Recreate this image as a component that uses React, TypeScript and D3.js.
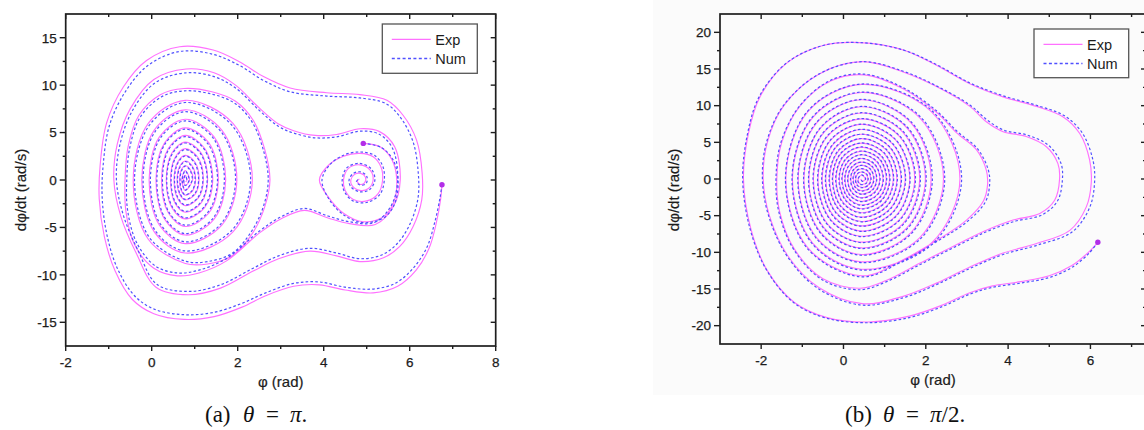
import React from "react";
import * as d3 from "d3";

type Pt = [number, number];

// ---------- Panel (a): theta = pi ----------
// trajectory starting at (6.75,-0.5), ends in the left well
const aExpMain: Pt[] = [
  [6.75,-0.5],[6.72,-2.0],[6.62,-4.5],[6.45,-7.2],[6.15,-9.5],[5.72,-11.2],[5.15,-11.9],[4.5,-11.6],[3.9,-11.05],[3.3,-11.2],
  [2.65,-12.2],[2.1,-13.4],[1.45,-14.4],[0.75,-14.7],[0.05,-14.1],[-0.45,-12.6],[-0.85,-9.6],[-1.1,-6.0],[-1.22,-2.0],[-1.2,1.5],
  [-1.05,6.0],[-0.66,9.8],[-0.12,12.6],[0.65,14.05],[1.43,13.7],[2.05,12.45],[2.6,10.9],[3.22,9.7],[4.07,9.2],[4.84,9.0],
  [5.47,8.4],[5.85,6.8],[6.16,4.2],[6.29,0.7],[6.28,-2.1],[6.08,-4.9],[5.77,-7.0],[5.39,-8.2],[4.84,-8.6],[4.3,-8.0],
  [3.68,-7.5],[2.95,-8.3],[2.36,-9.6],[1.6,-11.4],[0.85,-12.1],[0.1,-11.3],[-0.35,-7.8],[-0.72,-3.8],[-0.88,0],[-0.8,3.8],
  [-0.5,7.5],[0.05,10.6],[0.8,11.7],[1.45,11.3],[1.95,10.0],[2.5,7.6],[2.95,5.9],[3.3,5.2],[3.8,4.7],[4.3,4.8],
  [4.85,5.4],[5.3,5.1],[5.65,3.5],[5.78,0],[5.62,-2.8],[5.2,-4.7],[4.6,-4.6],[4.1,-4.0],[3.55,-3.2],[3.0,-4.1],
  [2.5,-5.6],[1.75,-8.5],[1.1,-9.8],[0.6,-10.1],[0.05,-9.3],[-0.4,-6.8],[-0.6,-3.3],[-0.62,0],[-0.55,3.5],[-0.3,6.8],
  [0.2,9.0],[0.75,9.65],[1.4,9.3],[1.95,8.3],[2.36,6.3],[2.63,3.2],[2.75,0],[2.63,-2.8],[2.36,-5.5],[1.9,-7.9],
  [1.3,-8.85],[0.78,-8.8],
  [-0.08,-6.25],[-0.43,0],[-0.08,5.96],[0.78,8.4],[1.89,5.96],[2.34,0],[1.89,-5.47],[0.78,-7.7],
  [0.06,-5.47],[-0.23,0],[0.06,5.25],[0.78,7.4],[1.63,5.25],[1.98,0],[1.63,-4.76],[0.78,-6.7],
  [0.18,-4.76],[-0.06,0],[0.18,4.54],[0.78,6.4],[1.45,4.54],[1.72,0],[1.45,-4.12],[0.78,-5.8],
  [0.30,-4.12],[0.10,0],[0.30,3.91],[0.78,5.5],[1.33,3.91],[1.55,0],[1.33,-3.48],[0.78,-4.9],
  [0.39,-3.48],[0.23,0],[0.39,3.34],[0.78,4.7],[1.23,3.34],[1.42,0],[1.23,-2.91],[0.78,-4.1],
  [0.47,-2.91],[0.34,0],[0.47,2.84],[0.78,4.0],[1.15,2.84],[1.30,0],[1.15,-2.41],[0.78,-3.4],
  [0.54,-2.41],[0.44,0],[0.54,2.34],[0.78,3.3],[1.08,2.34],[1.20,0],[1.08,-1.92],[0.78,-2.7],
  [0.60,-1.92],[0.52,0],[0.60,1.85],[0.78,2.6],[1.01,1.85],[1.10,0],[1.01,-1.49],[0.78,-2.1],
  [0.65,-1.49],[0.59,0],[0.65,1.42],[0.78,2.0],[0.95,1.42],[1.02,0],[0.95,-1.14],[0.78,-1.6],
  [0.69,-1.14],[0.65,0],[0.69,1.07],[0.78,1.5],[0.90,1.07],[0.95,0],[0.78,-1.1],[0.70,0],
  [0.78,1.0],[0.88,0],[0.78,-0.6],[0.74,0],[0.78,0.5],[0.82,0],[0.79,-0.2]
];

const aNumMain: Pt[] = [
  [6.75,-0.5],[6.70,-2.0],[6.58,-4.5],[6.40,-7.1],[6.08,-9.3],[5.66,-10.9],[5.12,-11.5],[4.5,-11.3],[3.9,-10.75],[3.3,-10.9],
  [2.65,-11.9],[2.1,-13.0],[1.45,-13.95],[0.75,-14.2],[0.05,-13.6],[-0.4,-12.2],[-0.8,-9.3],[-1.04,-5.8],[-1.15,-2.0],[-1.13,1.5],
  [-0.98,5.8],[-0.6,9.4],[-0.08,12.1],[0.65,13.55],[1.43,13.25],[2.05,12.05],[2.6,10.5],[3.22,9.3],[4.07,8.85],[4.84,8.65],
  [5.45,8.05],[5.8,6.5],[6.08,4.0],[6.2,0.7],[6.19,-2.0],[6.0,-4.7],[5.7,-6.75],[5.35,-7.9],[4.84,-8.3],[4.3,-7.7],
  [3.68,-7.2],[2.95,-8.0],[2.36,-9.3],[1.6,-11.05],[0.85,-11.75],[0.12,-11.0],[-0.3,-7.6],[-0.66,-3.7],[-0.82,0],[-0.74,3.7],
  [-0.45,7.3],[0.08,10.25],[0.8,11.3],[1.45,10.9],[1.95,9.7],[2.5,7.35],[2.95,5.65],[3.3,4.95],[3.8,4.45],[4.3,4.55],
  [4.85,5.15],[5.28,4.85],[5.6,3.35],[5.72,0],[5.57,-2.7],[5.17,-4.5],[4.6,-4.4],[4.1,-3.8],[3.55,-3.0],[3.0,-3.9],
  [2.5,-5.4],[1.75,-8.25],[1.1,-9.5],[0.6,-9.8],[0.08,-9.05],[-0.35,-6.6],[-0.56,-3.2],[-0.58,0],[-0.51,3.4],[-0.27,6.6],
  [0.22,8.75],[0.76,9.4],[1.4,9.05],[1.93,8.1],[2.33,6.15],[2.6,3.1],[2.71,0],[2.6,-2.75],[2.33,-5.35],[1.88,-7.7],
  [1.3,-8.6],[0.78,-8.55],
  [-0.05,-6.08],[-0.40,0],[-0.05,5.8],[0.78,8.17],[1.86,5.8],[2.30,0],[1.86,-5.32],[0.78,-7.48],
  [0.08,-5.32],[-0.20,0],[0.08,5.1],[0.78,7.2],[1.61,5.1],[1.95,0],[1.61,-4.63],[0.78,-6.52],
  [0.20,-4.63],[-0.03,0],[0.20,4.42],[0.78,6.23],[1.43,4.42],[1.69,0],[1.43,-4.01],[0.78,-5.65],
  [0.31,-4.01],[0.12,0],[0.31,3.8],[0.78,5.36],[1.31,3.8],[1.53,0],[1.31,-3.39],[0.78,-4.77],
  [0.40,-3.39],[0.25,0],[0.40,3.25],[0.78,4.58],[1.22,3.25],[1.40,0],[1.22,-2.83],[0.78,-3.99],
  [0.48,-2.83],[0.35,0],[0.48,2.76],[0.78,3.9],[1.14,2.76],[1.29,0],[1.14,-2.35],[0.78,-3.31],
  [0.55,-2.35],[0.45,0],[0.55,2.28],[0.78,3.21],[1.07,2.28],[1.19,0],[1.07,-1.87],[0.78,-2.63],
  [0.61,-1.87],[0.53,0],[0.61,1.8],[0.78,2.53],[1.0,1.8],[1.09,0],[1.0,-1.45],[0.78,-2.04],
  [0.66,-1.45],[0.60,0],[0.66,1.38],[0.78,1.95],[0.94,1.38],[1.01,0],[0.94,-1.11],[0.78,-1.56],
  [0.70,-1.11],[0.66,0],[0.70,1.04],[0.78,1.46],[0.89,1.04],[0.94,0],[0.78,-1.07],[0.71,0],
  [0.78,0.97],[0.87,0],[0.78,-0.58],[0.745,0],[0.78,0.48],[0.815,0],[0.79,-0.2]
];

// trajectory starting at (4.92,3.86), ends in the right well
const aExpRight: Pt[] = [
  [4.92,3.86],[5.31,3.5],[5.58,2.2],[5.70,0],[5.62,-2.45],[5.39,-3.86],[4.92,-4.4],[4.46,-3.5],[4.10,-1.75],[3.90,0],
  [4.10,1.5],[4.46,2.5],[4.84,2.8],[5.15,2.45],[5.33,1.4],[5.37,0],[5.27,-1.4],[5.0,-2.2],[4.69,-2.05],[4.50,-1.1],
  [4.46,0],[4.57,1.2],[4.84,1.6],[5.08,1.05],[5.15,0],[5.04,-0.9],[4.84,-1.1],[4.66,-0.6],[4.63,0],[4.72,0.6],
  [4.86,0.7],[4.97,0.3],[4.95,-0.3],[4.84,-0.45],[4.78,-0.1],[4.83,0.1]
];
const aNumRight: Pt[] = [
  [4.92,3.86],[5.33,3.45],[5.61,2.15],[5.73,0],[5.65,-2.5],[5.41,-3.95],[4.92,-4.5],[4.44,-3.6],[4.10,-1.85],[3.96,0],
  [4.14,1.6],[4.48,2.65],[4.86,2.95],[5.18,2.6],[5.37,1.5],[5.41,0],[5.31,-1.5],[5.02,-2.35],[4.68,-2.2],[4.48,-1.2],
  [4.43,0],[4.54,1.3],[4.84,1.75],[5.11,1.15],[5.19,0],[5.07,-1.0],[4.84,-1.25],[4.63,-0.7],[4.59,0],[4.69,0.7],
  [4.86,0.85],[5.0,0.4],[4.99,-0.35],[4.86,-0.55],[4.76,-0.2],[4.8,0.05]
];
const aStarts: Pt[] = [[6.75,-0.5],[4.92,3.86]];

// ---------- Panel (b): theta = pi/2 ----------
const bExpMain: Pt[] = [
  [6.18,-8.63],[5.95,-10.0],[5.55,-11.8],[5.0,-13.2],[4.3,-14.0],[3.6,-14.6],[3.07,-15.5],[2.4,-17.2],[1.6,-18.7],[0.6,-19.5],
  [-0.4,-18.9],[-1.2,-16.8],[-1.85,-12.5],[-2.25,-6.8],[-2.43,0],[-2.31,6.2],[-2.03,11.2],[-1.38,15.8],[-0.5,18.2],[0.4,18.6],
  [1.45,17.6],[2.26,15.5],[3.07,13.0],[3.88,11.2],[4.69,9.9],[5.33,8.5],[5.74,6.2],[5.98,2.6],[6.02,-0.5],[5.90,-3.8],
  [5.50,-7.0],[4.69,-8.8],[3.88,-10.1],[3.07,-12.0],[2.26,-14.2],[1.45,-16.0],[0.45,-17.0],[-0.6,-14.8],[-1.35,-10.5],[-1.8,-5.0],
  [-1.95,0],[-1.85,5.0],[-1.45,10.0],[-0.6,14.3],[0.45,16.0],[1.45,14.6],[2.26,12.6],[3.07,9.9],[3.47,7.8],[3.88,6.45],
  [4.44,5.8],[4.93,4.4],[5.21,2.1],[5.25,0],[5.13,-2.9],[4.77,-4.7],[4.12,-5.6],[3.47,-7.0],[2.66,-9.2],[1.85,-11.5],
  [1.05,-13.8],[0.4,-14.9],[-0.5,-13.6],[-1.2,-9.5],[-1.55,-4.5],[-1.62,0],[-1.5,5.0],[-1.05,10.0],[-0.3,13.4],[0.5,14.2],
  [1.45,12.3],[2.26,9.1],[2.75,6.3],[3.23,4.0],[3.47,1.2],[3.50,-0.8],[3.40,-3.0],[2.99,-5.6],[2.26,-8.4],[1.45,-11.0],
  [0.44,-13.2],
  [-0.87,-9.37],[-1.40,0],[-0.87,9.16],[0.44,12.9],[2.14,9.16],[2.83,0],[2.14,-8.73],[0.44,-12.3],
  [-0.75,-8.73],[-1.24,0],[-0.75,8.38],[0.44,11.8],[1.85,8.38],[2.43,0],[1.85,-8.02],[0.44,-11.3],
  [-0.65,-8.02],[-1.10,0],[-0.65,7.67],[0.44,10.8],[1.64,7.67],[2.13,0],[1.64,-7.31],[0.44,-10.3],
  [-0.55,-7.31],[-0.96,0],[-0.55,6.99],[0.44,9.85],[1.54,6.99],[1.99,0],[1.54,-6.67],[0.44,-9.4],
  [-0.47,-6.67],[-0.84,0],[-0.47,6.39],[0.44,9.0],[1.44,6.39],[1.85,0],[1.44,-6.11],[0.44,-8.6],
  [-0.39,-6.11],[-0.73,0],[-0.39,5.82],[0.44,8.2],[1.36,5.82],[1.73,0],[1.36,-5.54],[0.44,-7.8],
  [-0.31,-5.54],[-0.62,0],[-0.31,5.29],[0.44,7.45],[1.27,5.29],[1.61,0],[1.27,-5.04],[0.44,-7.1],
  [-0.24,-5.04],[-0.52,0],[-0.24,4.79],[0.44,6.75],[1.19,4.79],[1.50,0],[1.19,-4.54],[0.44,-6.4],
  [-0.18,-4.54],[-0.43,0],[-0.18,4.33],[0.44,6.1],[1.12,4.33],[1.40,0],[1.12,-4.12],[0.44,-5.8],
  [-0.11,-4.12],[-0.34,0],[-0.11,3.91],[0.44,5.5],[1.05,3.91],[1.30,0],[1.05,-3.69],[0.44,-5.2],
  [-0.06,-3.69],[-0.26,0],[-0.06,3.48],[0.44,4.9],[0.99,3.48],[1.21,0],[0.99,-3.27],[0.44,-4.6],
  [0.00,-3.27],[-0.18,0],[0.00,3.09],[0.44,4.35],[0.92,3.09],[1.12,0],[0.92,-2.88],[0.44,-4.05],
  [0.06,-2.88],[-0.10,0],[0.06,2.70],[0.44,3.8],[0.87,2.70],[1.04,0],[0.87,-2.52],[0.44,-3.55],
  [0.11,-2.52],[-0.03,0],[0.11,2.34],[0.44,3.3],[0.81,2.34],[0.96,0],[0.81,-2.17],[0.44,-3.05],
  [0.16,-2.17],[0.04,0],[0.16,1.99],[0.44,2.8],[0.75,1.99],[0.88,0],[0.75,-1.81],[0.44,-2.55],
  [0.21,-1.81],[0.11,0],[0.21,1.63],[0.44,2.3],[0.70,1.63],[0.80,0],[0.70,-1.46],[0.44,-2.05],
  [0.26,-1.46],[0.18,0],[0.26,1.31],[0.44,1.85],[0.65,1.31],[0.73,0],[0.65,-1.14],[0.44,-1.6],
  [0.30,-1.14],[0.24,0],[0.30,0.99],[0.44,1.4],[0.60,0.99],[0.66,0],[0.60,-0.82],[0.44,-1.15],
  [0.34,-0.82],[0.30,0],[0.34,0.67],[0.44,0.95],[0.55,0.67],[0.59,0],[0.55,-0.53],[0.44,-0.75],
  [0.38,-0.53],[0.36,0],[0.44,0.55],[0.53,0],[0.46,-0.3],[0.42,0]
];

const bNumMain: Pt[] = [
  [6.18,-8.63],[5.97,-10.1],[5.58,-11.95],[5.02,-13.4],[4.3,-14.2],[3.6,-14.8],[3.07,-15.7],[2.4,-17.4],[1.6,-18.9],[0.6,-19.6],
  [-0.4,-19.0],[-1.2,-16.9],[-1.86,-12.5],[-2.27,-6.8],[-2.45,0],[-2.33,6.2],[-2.05,11.2],[-1.39,15.8],[-0.5,18.2],[0.4,18.6],
  [1.45,17.6],[2.26,15.6],[3.07,13.1],[3.88,11.35],[4.69,10.05],[5.36,8.65],[5.8,6.3],[6.06,2.6],[6.1,-0.5],[5.98,-3.9],
  [5.56,-7.2],[4.72,-9.0],[3.88,-10.3],[3.07,-12.2],[2.26,-14.4],[1.45,-16.2],[0.45,-17.2],[-0.6,-15.0],[-1.36,-10.6],[-1.82,-5.0],
  [-1.97,0],[-1.87,5.0],[-1.46,10.0],[-0.6,14.3],[0.45,16.0],[1.45,14.7],[2.26,12.7],[3.07,10.1],[3.5,8.0],[3.9,6.65],
  [4.46,6.0],[4.98,4.6],[5.28,2.2],[5.32,0],[5.2,-3.0],[4.82,-4.9],[4.14,-5.8],[3.47,-7.2],[2.66,-9.4],[1.85,-11.7],
  [1.05,-14.0],[0.4,-15.1],[-0.5,-13.8],[-1.21,-9.6],[-1.57,-4.5],[-1.64,0],[-1.52,5.0],[-1.06,10.0],[-0.3,13.5],[0.5,14.3],
  [1.45,12.45],[2.26,9.3],[2.77,6.45],[3.26,4.1],[3.52,1.2],[3.55,-0.8],[3.45,-3.1],[3.02,-5.75],[2.26,-8.55],[1.45,-11.15],
  [0.44,-13.35],
  [-0.88,-9.45],[-1.41,0],[-0.88,9.2],[0.44,12.95],[2.17,9.2],[2.87,0],[2.17,-8.82],[0.44,-12.42],
  [-0.76,-8.82],[-1.25,0],[-0.76,8.42],[0.44,11.85],[1.88,8.42],[2.46,0],[1.88,-8.1],[0.44,-11.4],
  [-0.66,-8.1],[-1.11,0],[-0.66,7.7],[0.44,10.85],[1.66,7.7],[2.16,0],[1.66,-7.38],[0.44,-10.4],
  [-0.56,-7.38],[-0.97,0],[-0.56,7.02],[0.44,9.9],[1.56,7.02],[2.01,0],[1.56,-6.73],[0.44,-9.48],
  [-0.48,-6.73],[-0.85,0],[-0.48,6.42],[0.44,9.04],[1.46,6.42],[1.87,0],[1.46,-6.16],[0.44,-8.67],
  [-0.40,-6.16],[-0.74,0],[-0.40,5.85],[0.44,8.24],[1.37,5.85],[1.75,0],[1.37,-5.58],[0.44,-7.86],
  [-0.32,-5.58],[-0.63,0],[-0.32,5.31],[0.44,7.48],[1.28,5.31],[1.62,0],[1.28,-5.08],[0.44,-7.15],
  [-0.25,-5.08],[-0.53,0],[-0.25,4.81],[0.44,6.78],[1.20,4.81],[1.51,0],[1.20,-4.57],[0.44,-6.44],
  [-0.19,-4.57],[-0.44,0],[-0.19,4.35],[0.44,6.12],[1.13,4.35],[1.41,0],[1.13,-4.15],[0.44,-5.84],
  [-0.12,-4.15],[-0.35,0],[-0.12,3.93],[0.44,5.52],[1.06,3.93],[1.31,0],[1.06,-3.72],[0.44,-5.24],
  [-0.07,-3.72],[-0.27,0],[-0.07,3.5],[0.44,4.92],[1.0,3.5],[1.22,0],[1.0,-3.3],[0.44,-4.64],
  [-0.01,-3.3],[-0.19,0],[-0.01,3.11],[0.44,4.37],[0.93,3.11],[1.13,0],[0.93,-2.91],[0.44,-4.09],
  [0.05,-2.91],[-0.11,0],[0.05,2.72],[0.44,3.82],[0.88,2.72],[1.05,0],[0.88,-2.55],[0.44,-3.59],
  [0.10,-2.55],[-0.04,0],[0.10,2.36],[0.44,3.32],[0.82,2.36],[0.97,0],[0.82,-2.2],[0.44,-3.09],
  [0.15,-2.2],[0.03,0],[0.15,2.01],[0.44,2.82],[0.76,2.01],[0.89,0],[0.76,-1.84],[0.44,-2.59],
  [0.20,-1.84],[0.10,0],[0.20,1.65],[0.44,2.32],[0.71,1.65],[0.81,0],[0.71,-1.49],[0.44,-2.09],
  [0.25,-1.49],[0.17,0],[0.25,1.33],[0.44,1.87],[0.66,1.33],[0.74,0],[0.66,-1.17],[0.44,-1.64],
  [0.29,-1.17],[0.23,0],[0.29,1.01],[0.44,1.42],[0.61,1.01],[0.67,0],[0.61,-0.85],[0.44,-1.19],
  [0.33,-0.85],[0.29,0],[0.33,0.69],[0.44,0.97],[0.56,0.69],[0.60,0],[0.56,-0.56],[0.44,-0.78],
  [0.37,-0.56],[0.35,0],[0.44,0.57],[0.54,0],[0.46,-0.32],[0.42,0]
];
const bStarts: Pt[] = [[6.18,-8.63]];

// ---------- axes ----------
const aXTicks = [-2, 0, 2, 4, 6, 8];
const aXMinor = [-1, 1, 3, 5, 7];
const aYTicks = [-15, -10, -5, 0, 5, 10, 15];
const aYMinor = [-12.5, -7.5, -2.5, 2.5, 7.5, 12.5];
const bXTicks = [-2, 0, 2, 4, 6];
const bXMinor = [-1, 1, 3, 5, 7];
const bYTicks = [-20, -15, -10, -5, 0, 5, 10, 15, 20];
const bYMinor = [-17.5, -12.5, -7.5, -2.5, 2.5, 7.5, 12.5, 17.5];
const seriesNames = ["Exp", "Num"];

const EXP = "#ff70ff";
const NUM = "#5050ff";
const DOT = "#b22ee8";
const INK = "#1e1e1e";
const TXT = "#1c1c1c";
const SANS = "'Liberation Sans', Arial, sans-serif";
const SERIF = "'Liberation Serif', 'Times New Roman', serif";

type PanelProps = {
  id: string;
  x: d3.ScaleLinear<number, number>;
  y: d3.ScaleLinear<number, number>;
  xTicks: number[]; xMinor: number[]; yTicks: number[]; yMinor: number[];
  exp: Pt[][]; num: Pt[][]; starts: Pt[];
  legend: { x: number; y: number; w: number; h: number };
  yTitleX: number; yTitleY: number; xTitleY: number;
};

function Panel(p: PanelProps) {
  const { x, y } = p;
  const [x0, x1] = x.range();
  const [yb, yt] = y.range();
  const line = d3.line<Pt>().x(d => x(d[0])).y(d => y(d[1])).curve(d3.curveCatmullRom.alpha(0.5));
  const ticks: React.ReactNode[] = [];
  p.xTicks.forEach((v, i) => {
    const X = x(v);
    ticks.push(<line key={`xb${i}`} x1={X} x2={X} y1={yb} y2={yb + 5} />);
    ticks.push(<line key={`xt${i}`} x1={X} x2={X} y1={yt} y2={yt + 5} />);
  });
  p.xMinor.forEach((v, i) => {
    const X = x(v);
    ticks.push(<line key={`xbm${i}`} x1={X} x2={X} y1={yb} y2={yb + 3} />);
    ticks.push(<line key={`xtm${i}`} x1={X} x2={X} y1={yt} y2={yt + 3} />);
  });
  p.yTicks.forEach((v, i) => {
    const Y = y(v);
    ticks.push(<line key={`yl${i}`} x1={x0 - 6} x2={x0} y1={Y} y2={Y} />);
    ticks.push(<line key={`yr${i}`} x1={x1 - 5} x2={x1} y1={Y} y2={Y} />);
  });
  p.yMinor.forEach((v, i) => {
    const Y = y(v);
    ticks.push(<line key={`ylm${i}`} x1={x0 - 3} x2={x0} y1={Y} y2={Y} />);
    ticks.push(<line key={`yrm${i}`} x1={x1 - 3} x2={x1} y1={Y} y2={Y} />);
  });
  const L = p.legend;
  return (
    <g>
      <defs>
        <clipPath id={p.id}>
          <rect x={x0} y={yt} width={x1 - x0} height={yb - yt} />
        </clipPath>
      </defs>
      <g clipPath={`url(#${p.id})`}>
        {p.exp.map((d, i) => (
          <path key={`e${i}`} d={line(d) || ""} fill="none" stroke={EXP} strokeWidth={1.15} />
        ))}
        {p.num.map((d, i) => (
          <path key={`n${i}`} d={line(d) || ""} fill="none" stroke={NUM} strokeWidth={1.2} strokeDasharray="2.6 2.2" />
        ))}
        {p.starts.map((d, i) => (
          <circle key={`s${i}`} cx={x(d[0])} cy={y(d[1])} r={2.7} fill={DOT} />
        ))}
      </g>
      <rect x={x0} y={yt} width={x1 - x0} height={yb - yt} fill="none" stroke={INK} strokeWidth={1.7} />
      <g stroke={INK} strokeWidth={1.4}>{ticks}</g>
      <g fontFamily={SANS} fontSize={13.5} fill={TXT} stroke={TXT} strokeWidth={0.25}>
        {p.xTicks.map((v, i) => (
          <text key={`xl${i}`} x={x(v)} y={yb + 21} textAnchor="middle">{String(v)}</text>
        ))}
        {p.yTicks.map((v, i) => (
          <text key={`yl${i}`} x={x0 - 9} y={y(v) + 4.8} textAnchor="end">{String(v)}</text>
        ))}
      </g>
      <text x={(x0 + x1) / 2} y={p.xTitleY} textAnchor="middle" fontFamily={SANS} fontSize={15} fill={TXT} stroke={TXT} strokeWidth={0.2}>φ (rad)</text>
      <text transform={`translate(${p.yTitleX},${p.yTitleY}) rotate(-90)`} textAnchor="middle" fontFamily={SANS} fontSize={15} fill={TXT} stroke={TXT} strokeWidth={0.2}>dφ/dt (rad/s)</text>
      <g>
        <rect x={L.x} y={L.y} width={L.w} height={L.h} fill="#fff" stroke="#555" strokeWidth={1.3} />
        <line x1={L.x + 9.5} x2={L.x + 48.5} y1={L.y + 15.3} y2={L.y + 15.3} stroke={EXP} strokeWidth={1.3} />
        <line x1={L.x + 9.5} x2={L.x + 48.5} y1={L.y + 34.5} y2={L.y + 34.5} stroke={NUM} strokeWidth={1.3} strokeDasharray="3 2.4" />
        <text x={L.x + 53} y={L.y + 20.5} fontFamily={SANS} fontSize={14.5} fill={TXT}>{seriesNames[0]}</text>
        <text x={L.x + 53} y={L.y + 39.8} fontFamily={SANS} fontSize={14.5} fill={TXT}>{seriesNames[1]}</text>
      </g>
    </g>
  );
}

export default function App() {
  const xA = d3.scaleLinear().domain([-2, 8]).range([65.7, 495.7]);
  const yA = d3.scaleLinear().domain([-17.5, 17.5]).range([346, 14]);
  const xB = d3.scaleLinear().domain([-3, 7.35]).range([720, 1146]);
  const yB = d3.scaleLinear().domain([-22.5, 22.5]).range([344, 14]);
  return (
    <svg width={1144} height={430} style={{ position: "absolute", left: 0, top: 0, background: "#fff" }}>
      <rect x={653} y={0} width={491} height={395} fill="#fbfbfb" />
      <Panel
        id="clipA" x={xA} y={yA}
        xTicks={aXTicks} xMinor={aXMinor} yTicks={aYTicks} yMinor={aYMinor}
        exp={[aExpMain, aExpRight]} num={[aNumMain, aNumRight]} starts={aStarts}
        legend={{ x: 382.3, y: 24, w: 95, h: 49.3 }}
        yTitleX={26} yTitleY={190} xTitleY={387}
      />
      <Panel
        id="clipB" x={xB} y={yB}
        xTicks={bXTicks} xMinor={bXMinor} yTicks={bYTicks} yMinor={bYMinor}
        exp={[bExpMain]} num={[bNumMain]} starts={bStarts}
        legend={{ x: 1034, y: 29, w: 94.7, h: 48.7 }}
        yTitleX={678.5} yTitleY={190} xTitleY={385}
      />
      <g fontFamily={SERIF} fontSize={23} fill="#111">
        <text x={205} y={422}>(a)</text>
        <text x={243} y={422} fontStyle="italic">θ</text>
        <text x={266} y={422}>=</text>
        <text x={290} y={422} fontStyle="italic">π<tspan fontStyle="normal">.</tspan></text>
        <text x={845} y={422}>(b)</text>
        <text x={883} y={422} fontStyle="italic">θ</text>
        <text x={906} y={422}>=</text>
        <text x={930} y={422} fontStyle="italic">π<tspan fontStyle="normal">/2.</tspan></text>
      </g>
    </svg>
  );
}
